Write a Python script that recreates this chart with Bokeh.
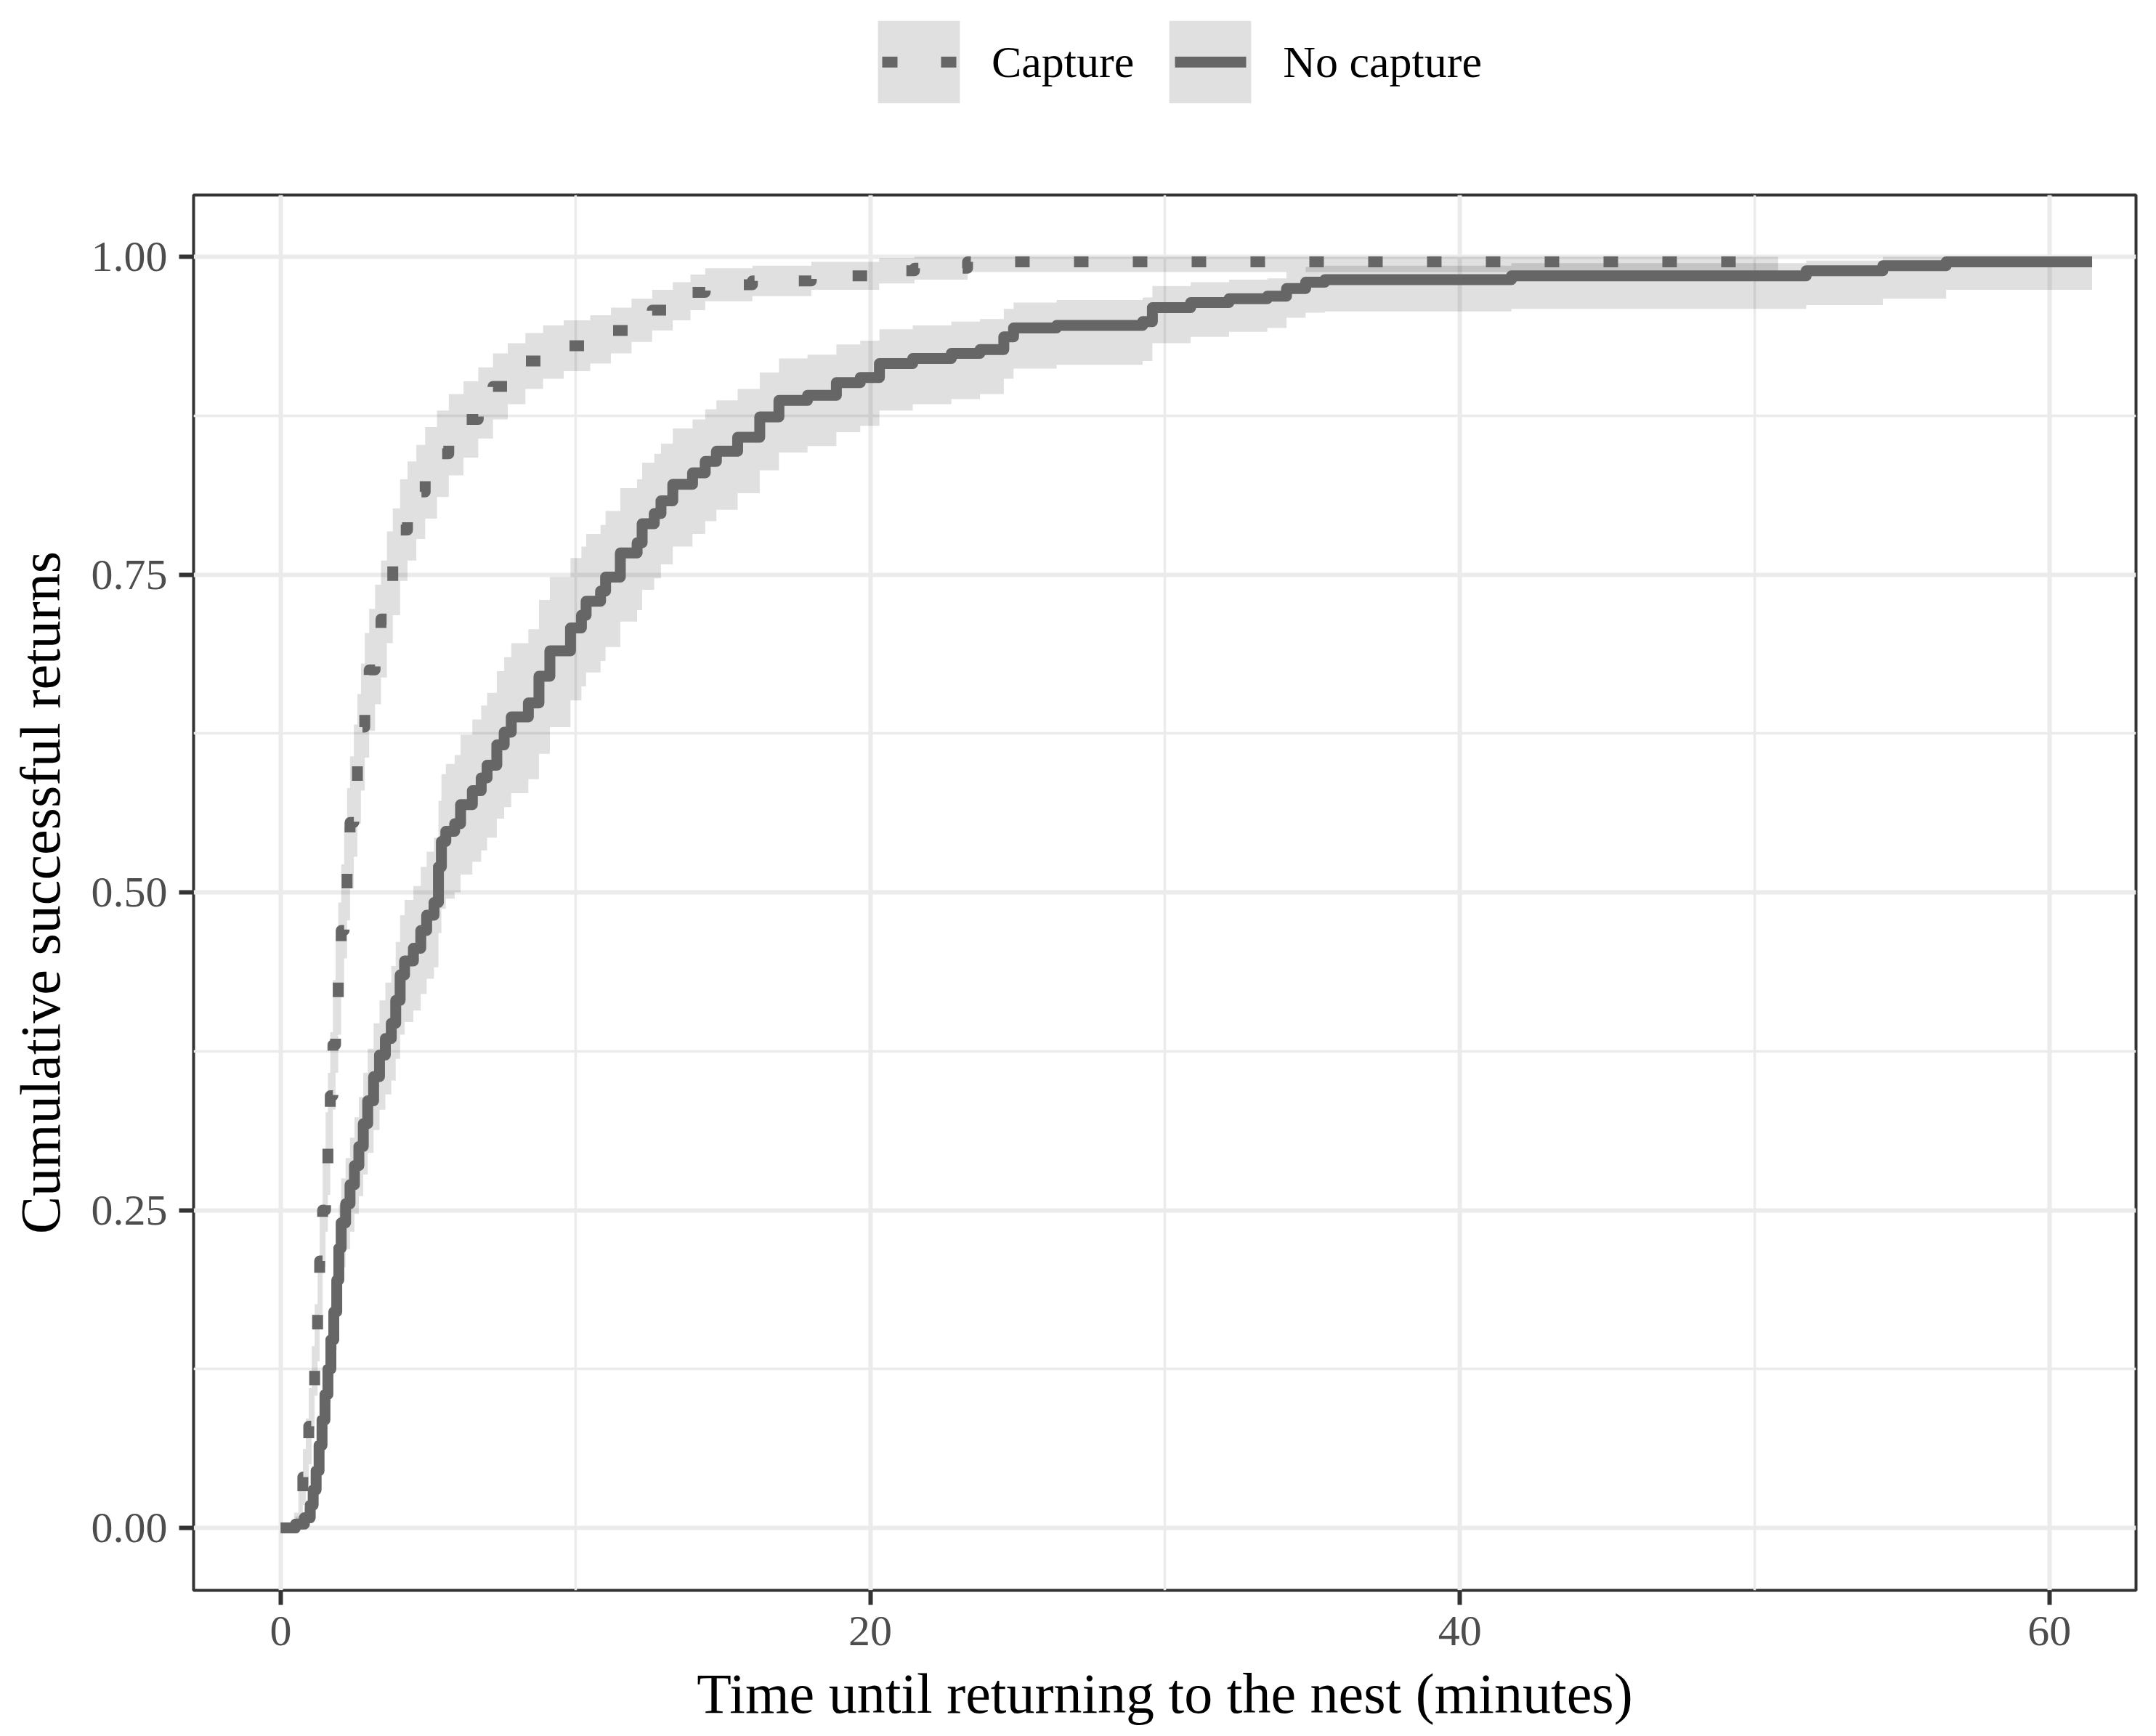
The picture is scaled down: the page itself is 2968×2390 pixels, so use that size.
from bokeh.plotting import figure
from bokeh.layouts import column
from bokeh.models import (ColumnDataSource, Range1d, FixedTicker, Legend, LegendItem)
from bokeh.embed import file_html
from bokeh.resources import INLINE

# ---------------- data ----------------
series_labels = ["Capture", "No capture"]

cap_time = [0.0, 0.45, 0.6, 0.75, 0.85, 0.95, 1.05, 1.15, 1.25, 1.32, 1.42, 1.52, 1.6, 1.68,
            1.77, 1.86, 1.95, 2.05, 2.15, 2.25, 2.35, 2.48, 2.6, 2.72, 2.85, 3.0, 3.2, 3.4,
            3.6, 3.8, 4.05, 4.3, 4.6, 4.9, 5.3, 5.7, 6.2, 6.7, 7.2, 7.7, 8.3, 8.9, 9.6, 10.5,
            11.2, 11.9, 12.6, 13.3, 13.9, 14.4, 16.0, 18.0, 20.3, 21.5, 23.3, 50.8]
cap_cum = [0.0, 0.005, 0.02, 0.04, 0.06, 0.08, 0.11, 0.14, 0.17, 0.21, 0.25, 0.28, 0.31, 0.34,
           0.38, 0.41, 0.44, 0.47, 0.50, 0.53, 0.555, 0.58, 0.605, 0.63, 0.655, 0.675, 0.695, 0.715,
           0.74, 0.76, 0.785, 0.80, 0.815, 0.83, 0.845, 0.86, 0.872, 0.885, 0.898, 0.908, 0.918, 0.925,
           0.93, 0.935, 0.942, 0.95, 0.958, 0.965, 0.972, 0.978, 0.981, 0.985, 0.989, 0.991, 0.996, 0.996]
cap_lower = [0.0, 0.0, 0.005, 0.018, 0.034, 0.05, 0.077, 0.104, 0.131, 0.168, 0.205, 0.233, 0.262, 0.29,
             0.329, 0.358, 0.388, 0.418, 0.448, 0.478, 0.503, 0.528, 0.554, 0.58, 0.606, 0.627, 0.648, 0.669,
             0.696, 0.718, 0.745, 0.761, 0.778, 0.794, 0.811, 0.828, 0.842, 0.857, 0.872, 0.884, 0.896, 0.904,
             0.91, 0.916, 0.924, 0.933, 0.942, 0.95, 0.958, 0.965, 0.969, 0.974, 0.979, 0.982, 0.988, 0.988]
cap_upper = [0.0, 0.012, 0.035, 0.062, 0.086, 0.11, 0.143, 0.176, 0.209, 0.252, 0.295, 0.327, 0.358, 0.39,
             0.431, 0.462, 0.492, 0.522, 0.552, 0.582, 0.607, 0.632, 0.656, 0.68, 0.704, 0.723, 0.742, 0.761,
             0.784, 0.802, 0.825, 0.839, 0.852, 0.866, 0.879, 0.892, 0.902, 0.913, 0.924, 0.932, 0.94, 0.946,
             0.95, 0.954, 0.96, 0.967, 0.974, 0.98, 0.986, 0.991, 0.993, 0.996, 0.999, 1.0, 1.0, 1.0]

nocap_time = [0.0, 0.5, 0.8, 1.0, 1.1, 1.2, 1.3, 1.4, 1.5, 1.6, 1.7, 1.8, 1.9, 1.97, 2.05, 2.2, 2.35,
              2.5, 2.65, 2.8, 2.95, 3.15, 3.35, 3.55, 3.75, 3.9, 4.05, 4.2, 4.5, 4.75, 4.95, 5.2, 5.35,
              5.45, 5.6, 5.9, 6.1, 6.5, 6.8, 7.0, 7.33, 7.58, 7.82, 8.4, 8.76, 9.13, 9.83, 10.2, 10.36,
              10.85, 11.02, 11.52, 12.09, 12.26, 12.67, 12.9, 13.3, 13.97, 14.4, 14.78, 15.5, 16.25,
              16.9, 17.87, 18.85, 19.66, 20.31, 21.44, 22.75, 23.72, 24.53, 24.86, 26.32, 29.24, 29.57,
              30.87, 32.17, 33.47, 34.12, 34.77, 35.42, 41.75, 51.75, 54.35, 56.5, 61.45]
nocap_cum = [0.0, 0.003, 0.008, 0.018, 0.03, 0.045, 0.065, 0.085, 0.105, 0.125, 0.148, 0.17, 0.195, 0.22,
             0.24, 0.255, 0.27, 0.285, 0.30, 0.318, 0.336, 0.355, 0.372, 0.385, 0.397, 0.415, 0.435, 0.446,
             0.456, 0.47, 0.482, 0.492, 0.52, 0.54, 0.548, 0.554, 0.569, 0.58, 0.59, 0.60, 0.616, 0.626,
             0.638, 0.649, 0.67, 0.69, 0.708, 0.718, 0.729, 0.737, 0.748, 0.767, 0.775, 0.79, 0.798, 0.808,
             0.821, 0.83, 0.839, 0.847, 0.858, 0.874, 0.887, 0.891, 0.901, 0.905, 0.916, 0.92, 0.924, 0.927,
             0.937, 0.944, 0.946, 0.949, 0.96, 0.964, 0.967, 0.969, 0.975, 0.98, 0.982, 0.985, 0.989, 0.993,
             0.996, 0.996]
nocap_lower = [0.0, 0.0, 0.001, 0.007, 0.016, 0.028, 0.045, 0.063, 0.081, 0.099, 0.12, 0.14, 0.163, 0.186,
               0.205, 0.219, 0.233, 0.247, 0.261, 0.278, 0.295, 0.313, 0.329, 0.341, 0.352, 0.369, 0.388, 0.398,
               0.407, 0.42, 0.432, 0.441, 0.468, 0.487, 0.495, 0.5, 0.514, 0.524, 0.533, 0.543, 0.558, 0.567,
               0.578, 0.589, 0.609, 0.63, 0.651, 0.662, 0.673, 0.682, 0.693, 0.713, 0.722, 0.738, 0.747, 0.758,
               0.772, 0.782, 0.792, 0.801, 0.814, 0.832, 0.846, 0.851, 0.862, 0.867, 0.879, 0.884, 0.888, 0.892,
               0.904, 0.912, 0.915, 0.918, 0.932, 0.937, 0.941, 0.944, 0.952, 0.956, 0.957, 0.959, 0.962, 0.967,
               0.974, 0.974]
nocap_upper = [0.0, 0.009, 0.016, 0.029, 0.044, 0.062, 0.085, 0.107, 0.129, 0.151, 0.176, 0.2, 0.227, 0.254,
               0.275, 0.291, 0.307, 0.323, 0.339, 0.358, 0.377, 0.397, 0.415, 0.429, 0.442, 0.461, 0.482, 0.494,
               0.505, 0.52, 0.532, 0.543, 0.572, 0.593, 0.601, 0.608, 0.624, 0.636, 0.647, 0.657, 0.674, 0.685,
               0.696, 0.707, 0.73, 0.748, 0.763, 0.772, 0.782, 0.789, 0.8, 0.818, 0.825, 0.838, 0.845, 0.853,
               0.865, 0.872, 0.88, 0.887, 0.896, 0.909, 0.92, 0.923, 0.931, 0.934, 0.943, 0.946, 0.949, 0.951,
               0.959, 0.964, 0.966, 0.968, 0.977, 0.98, 0.982, 0.983, 0.988, 0.992, 0.993, 0.995, 0.997, 1.0,
               1.0, 1.0]

x_ticks = [0, 20, 40, 60]
x_tick_labels = ["0", "20", "40", "60"]
x_minor = [10, 30, 50]
y_ticks = [0.0, 0.25, 0.5, 0.75, 1.0]
y_tick_labels = ["0.00", "0.25", "0.50", "0.75", "1.00"]
y_minor = [0.125, 0.375, 0.625, 0.875]

x_title = "Time until returning to the nest (minutes)"
y_title = "Cumulative successful returns"

# ---------------- styling ----------------
FONT = "Liberation Serif"
LINE_COL = "#666666"
LINE_W = 15
W = 2960
LEG_H = 248
MAIN_H = 2132
LEFT = 266

cap_src = ColumnDataSource(dict(t=cap_time, cum=cap_cum, lo=cap_lower, hi=cap_upper))
nocap_src = ColumnDataSource(dict(t=nocap_time, cum=nocap_cum, lo=nocap_lower, hi=nocap_upper))
key_src = ColumnDataSource(dict(x=[float("nan")], y=[float("nan")]))

# ---------------- main panel ----------------
p = figure(width=W, height=MAIN_H, output_backend="svg", toolbar_location=None,
           x_range=Range1d(-2.957, 62.94), y_range=Range1d(-0.0491, 1.0486),
           min_border_left=LEFT, min_border_right=20, min_border_top=20, min_border_bottom=191)
p.background_fill_color = "white"
p.border_fill_color = "white"
p.outline_line_color = "#333333"
p.outline_line_width = 4

# ribbons
p.varea_step(x="t", y1="lo", y2="hi", step_mode="after", source=cap_src,
             fill_color="black", fill_alpha=0.12)
p.varea_step(x="t", y1="lo", y2="hi", step_mode="after", source=nocap_src,
             fill_color="black", fill_alpha=0.12)
# step lines
p.step(x="t", y="cum", mode="after", source=cap_src, line_color=LINE_COL,
       line_width=LINE_W, line_dash="20 61", line_join="round")
p.step(x="t", y="cum", mode="after", source=nocap_src, line_color=LINE_COL,
       line_width=LINE_W, line_join="round")

# axes
p.xaxis.ticker = FixedTicker(ticks=x_ticks, minor_ticks=x_minor)
p.yaxis.ticker = FixedTicker(ticks=y_ticks, minor_ticks=y_minor)
p.xaxis.major_label_overrides = dict(zip(x_ticks, x_tick_labels))
p.yaxis.major_label_overrides = dict(zip(y_ticks, y_tick_labels))
p.xaxis.axis_label = x_title
p.yaxis.axis_label = y_title

for ax in (p.xaxis[0], p.yaxis[0]):
    ax.axis_line_color = None
    ax.major_tick_in = 0
    ax.major_tick_out = 20
    ax.major_tick_line_width = 6
    ax.major_tick_line_color = "#333333"
    ax.minor_tick_in = 0
    ax.minor_tick_out = 0
    ax.minor_tick_line_color = None
    ax.major_label_text_font = FONT
    ax.major_label_text_font_size = "60px"
    ax.major_label_text_color = "#4D4D4D"
    ax.axis_label_text_font = FONT
    ax.axis_label_text_font_size = "78px"
    ax.axis_label_text_font_style = "normal"
    ax.axis_label_text_color = "black"

p.xaxis.major_label_standoff = 16
p.xaxis.axis_label_standoff = 20
p.yaxis.major_label_standoff = 16
p.yaxis.axis_label_standoff = 24

for g in (p.xgrid[0], p.ygrid[0]):
    g.grid_line_color = "#EBEBEB"
    g.grid_line_width = 6
    g.minor_grid_line_color = "#EBEBEB"
    g.minor_grid_line_width = 3.5

# ---------------- legend strip on top ----------------
lg = figure(width=W, height=LEG_H, output_backend="svg", toolbar_location=None,
            x_range=Range1d(0, 1), y_range=Range1d(0, 1),
            x_axis_type=None, y_axis_type=None, min_border=0)
lg.outline_line_color = None
lg.background_fill_color = "white"
lg.border_fill_color = "white"

key_area = lg.varea(x="x", y1="y", y2="y", source=key_src, fill_color="black", fill_alpha=0.12)
key_cap = lg.line(x="x", y="y", source=key_src, line_color=LINE_COL, line_width=LINE_W,
                  line_dash="21 60", line_dash_offset=61)
key_nocap = lg.line(x="x", y="y", source=key_src, line_color=LINE_COL, line_width=LINE_W,
                    line_dash="98 200", line_dash_offset=276)

# the column aligns this strip's frame with the main panel's frame (left edge = LEFT)
legend = Legend(items=[LegendItem(label=series_labels[0], renderers=[key_area, key_cap]),
                       LegendItem(label=series_labels[1], renderers=[key_area, key_nocap])],
                orientation="horizontal", location=(1194 - LEFT, LEG_H - 14 - 142),
                glyph_width=141, glyph_height=142, label_standoff=30, spacing=34,
                padding=0, margin=0, border_line_color=None, background_fill_alpha=0,
                label_text_font=FONT, label_text_font_size="62px", label_text_color="black")
lg.add_layout(legend)

layout = column(lg, p, spacing=0)
open("out.html", "w").write(file_html(layout, INLINE, title="plot"))
